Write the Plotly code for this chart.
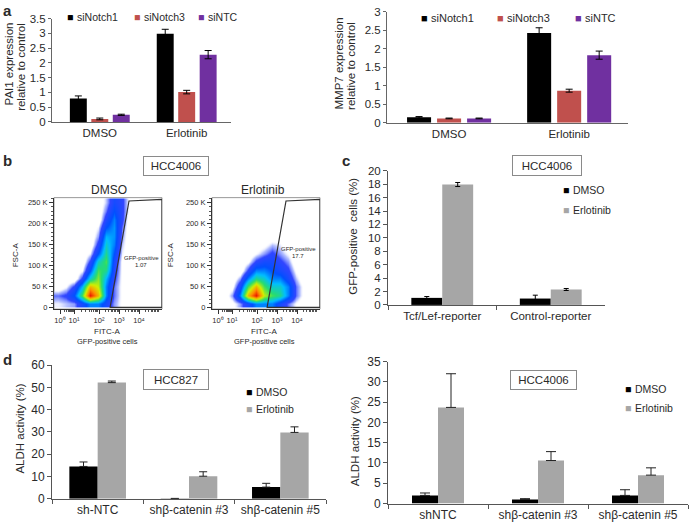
import numpy as np
import plotly.graph_objects as go

W, H = 689, 530
FONT = "Liberation Sans, Arial, sans-serif"
TXT = "#2a2a2a"

# ---------------- data ----------------
a_groups = ["DMSO", "Erlotinib"]
a_series = ["siNotch1", "siNotch3", "siNTC"]
pai1_siNotch1 = [0.79, 2.99]
pai1_siNotch1_err = [0.09, 0.15]
pai1_siNotch3 = [0.10, 1.01]
pai1_siNotch3_err = [0.03, 0.06]
pai1_siNTC = [0.24, 2.28]
pai1_siNTC_err = [0.02, 0.14]
mmp7_siNotch1 = [0.15, 2.43]
mmp7_siNotch1_err = [0.02, 0.14]
mmp7_siNotch3 = [0.12, 0.87]
mmp7_siNotch3_err = [0.01, 0.04]
mmp7_siNTC = [0.12, 1.83]
mmp7_siNTC_err = [0.01, 0.11]

c_categories = ["Tcf/Lef-reporter", "Control-reporter"]
c_dmso = [1.05, 0.95]
c_dmso_err = [0.2, 0.5]
c_erl = [17.95, 2.3]
c_erl_err = [0.3, 0.15]

d_series = ["DMSO", "Erlotinib"]
d827_categories = ["sh-NTC", "shβ-catenin #3", "shβ-catenin #5"]
d827_dmso = [14.5, 0.1, 5.2]
d827_dmso_err = [2.0, 0.0, 1.7]
d827_erl = [52.2, 10.1, 29.8]
d827_erl_err = [0.7, 2.0, 2.5]
d4006_categories = ["shNTC", "shβ-catenin #3", "shβ-catenin #5"]
d4006_dmso = [2.0, 1.0, 2.0]
d4006_dmso_err = [0.6, 0.2, 1.4]
d4006_erl = [23.7, 10.6, 7.0]
d4006_erl_err = [8.3, 2.2, 1.8]

# flow cytometry: coarse density grid
flow_x_centers = [4, 12, 20, 28, 36, 44, 52, 60, 68, 76, 84, 92, 100]   # FITC-A display units
flow_y_centers = [10, 30, 50, 70, 90, 110, 130, 150, 170, 190, 210, 230, 250]  # FSC-A (K)
flow_dmso_density = [
    [0.6, 0.8, 1, 2, 3, 3, 2, 1, 0.4, 0, 0, 0, 0],
    [1.2, 1.5, 2.5, 5, 9, 7, 3, 1.2, 0.4, 0, 0, 0, 0],
    [0, 0.5, 1.5, 3.5, 7, 6, 3, 1.2, 0.4, 0, 0, 0, 0],
    [0, 0, 0, 1.5, 4, 5.5, 3.5, 1.5, 0.4, 0, 0, 0, 0],
    [0, 0, 0, 0.5, 2.5, 5, 4.5, 1.8, 0.4, 0, 0, 0, 0],
    [0, 0, 0, 0, 1.5, 4, 5, 2, 0.4, 0, 0, 0, 0],
    [0, 0, 0, 0, 0.6, 2.5, 4.5, 2.5, 0.6, 0, 0, 0, 0],
    [0, 0, 0, 0, 0, 1.6, 4, 3, 0.8, 0, 0, 0, 0],
    [0, 0, 0, 0, 0, 1, 3.5, 3.2, 1, 0, 0, 0, 0],
    [0, 0, 0, 0, 0, 0.6, 2.5, 3.2, 1.2, 0, 0, 0, 0],
    [0, 0, 0, 0, 0, 0, 1.8, 3, 1.5, 0, 0, 0, 0],
    [0, 0, 0, 0, 0, 0, 1.2, 2.5, 1.5, 0.3, 0, 0, 0],
    [0, 0, 0, 0, 0, 0, 0.8, 2, 1.5, 0.3, 0, 0, 0],
]
flow_erl_density = [
    [0, 0, 0.3, 1, 2, 3, 3, 3, 2, 1.2, 0.5, 0, 0],
    [0, 0, 1, 3, 7, 9, 6, 5, 4.5, 3, 1.2, 0.3, 0],
    [0, 0, 0.3, 2, 5, 7, 5, 4, 4, 3, 1.2, 0.3, 0],
    [0, 0, 0, 1, 3, 4.5, 4, 3, 3, 2, 0.8, 0, 0],
    [0, 0, 0, 0, 1.5, 3, 3, 2.5, 2, 1.5, 0.4, 0, 0],
    [0, 0, 0, 0, 0.4, 1.5, 2, 2, 1.5, 1, 0, 0, 0],
    [0, 0, 0, 0, 0, 0.5, 1, 1.5, 1, 0.5, 0, 0, 0],
    [0, 0, 0, 0, 0, 0, 0.3, 0.8, 0.6, 0, 0, 0, 0],
    [0] * 13, [0] * 13, [0] * 13, [0] * 13, [0] * 13,
]
flow_dmso_gate_x = [56, 75, 108, 108, 56]
flow_dmso_gate_y = [0, 254, 258, 1, 1]
flow_erl_gate_x = [55, 74, 108, 108, 55]
flow_erl_gate_y = [0, 254, 258, 1, 1]
flow_dmso_pct = "1.07"
flow_erl_pct = "17.7"
flow_decades = ["10⁰", "10¹", "10²", "10³", "10⁴"]
flow_y_ticks = [0, 50, 100, 150, 200, 250]

# ---------------- styles ----------------
C_BLACK = "#000000"
C_RED = "#c0504d"
C_PURPLE = "#7030a0"
C_GRAY = "#a6a6a6"
a_colors = [C_BLACK, C_RED, C_PURPLE]
d_colors = [C_BLACK, C_GRAY]


def xdom(p0, p1):
    return [p0 / W, p1 / W]


def ydom(pb, pt):
    return [1 - pb / H, 1 - pt / H]


fig = go.Figure()


def add_bars(xa, ya, cats, vals_list, errs_list, colors, slot, bar, err_w, plus_only=False, err_color="#000"):
    n = len(vals_list)
    for i, (vals, errs, col) in enumerate(zip(vals_list, errs_list, colors)):
        off = (i - (n - 1) / 2) * slot - bar / 2
        if plus_only:
            ey = dict(type="data", symmetric=False, array=errs, arrayminus=[0] * len(errs),
                      color=err_color, thickness=1, width=err_w)
        else:
            ey = dict(type="data", array=errs, color=err_color, thickness=1, width=err_w)
        fig.add_trace(go.Bar(x=cats, y=vals, xaxis=xa, yaxis=ya, marker=dict(color=col, line=dict(width=0)),
                             width=bar, offset=off, error_y=ey, showlegend=False))


# panel a
add_bars("x", "y", a_groups, [pai1_siNotch1, pai1_siNotch3, pai1_siNTC],
         [pai1_siNotch1_err, pai1_siNotch3_err, pai1_siNTC_err], a_colors, 0.247, 0.195, 3.5)
add_bars("x2", "y2", a_groups, [mmp7_siNotch1, mmp7_siNotch3, mmp7_siNTC],
         [mmp7_siNotch1_err, mmp7_siNotch3_err, mmp7_siNTC_err], a_colors, 0.25, 0.2, 3.5)
# panel c
add_bars("x5", "y5", c_categories, [c_dmso, c_erl], [c_dmso_err, c_erl_err], d_colors, 0.285, 0.285, 2.5)
# panel d
add_bars("x6", "y6", d827_categories, [d827_dmso, d827_erl], [d827_dmso_err, d827_erl_err], d_colors,
         0.31, 0.31, 4, plus_only=True, err_color="#222")
add_bars("x7", "y7", d4006_categories, [d4006_dmso, d4006_erl], [d4006_dmso_err, d4006_erl_err], d_colors,
         0.26, 0.26, 5, plus_only=True, err_color="#222")

# panel b flow
flow_cs = [
    [0.0, "rgba(255,255,255,0)"],
    [0.045, "rgba(255,255,255,0)"],
    [0.09, "rgba(120,140,255,0.55)"],
    [0.15, "rgb(50,70,255)"],
    [0.28, "rgb(0,80,255)"],
    [0.40, "rgb(0,190,255)"],
    [0.53, "rgb(40,220,110)"],
    [0.68, "rgb(210,240,0)"],
    [0.84, "rgb(255,140,0)"],
    [1.0, "rgb(235,20,0)"],
]
for xa, ya, z, gx, gy in [("x3", "y3", flow_dmso_density, flow_dmso_gate_x, flow_dmso_gate_y),
                          ("x4", "y4", flow_erl_density, flow_erl_gate_x, flow_erl_gate_y)]:
    fig.add_trace(go.Heatmap(x=flow_x_centers, y=flow_y_centers, z=z, xaxis=xa, yaxis=ya,
                             colorscale=flow_cs, zmin=0, zmax=9, zsmooth="best", showscale=False,
                             hoverinfo="skip"))
    fig.add_trace(go.Scatter(x=gx, y=gy, xaxis=xa, yaxis=ya, mode="lines",
                             line=dict(color="#333", width=1.2), showlegend=False, hoverinfo="skip"))

# ---------------- axes ----------------
tickfont_a = dict(size=11.5, family=FONT, color=TXT)
tickfont_c = dict(size=11.5, family=FONT, color=TXT)
tickfont_d = dict(size=12, family=FONT, color=TXT)
flowfont = dict(size=7.5, family=FONT, color=TXT)

lay = {}
lay["xaxis"] = dict(domain=xdom(52, 231), range=[-0.55, 1.51], type="category", showline=True,
                    linecolor="#666", ticks="", tickfont=tickfont_a, anchor="y", fixedrange=True)
lay["yaxis"] = dict(domain=ydom(118, 12), range=[0, 3.5], dtick=0.5, showline=True, linecolor="#666",
                    ticks="outside", ticklen=3, tickcolor="#666", showgrid=False, zeroline=False,
                    tickfont=tickfont_a, anchor="x")
lay["xaxis2"] = dict(domain=xdom(387, 628), range=[-0.517, 1.49], type="category", showline=True,
                     linecolor="#666", ticks="", tickfont=tickfont_a, anchor="y2")
lay["yaxis2"] = dict(domain=ydom(119, 5), range=[0, 3], dtick=0.5, showline=True, linecolor="#666",
                     ticks="outside", ticklen=3, tickcolor="#666", showgrid=False, zeroline=False,
                     tickfont=tickfont_a, anchor="x2")

# flow axes
decade_pos = [6, 20, 45, 65, 85]
minor_pos = []
for i in range(len(decade_pos)):
    step = (decade_pos[i + 1] - decade_pos[i]) if i + 1 < len(decade_pos) else 20
    for k in range(2, 10):
        p = decade_pos[i] + step * np.log10(k)
        if p < 108:
            minor_pos.append(float(p))

for xa, ya, x0 in [("xaxis3", "yaxis3", 54), ("xaxis4", "yaxis4", 212)]:
    lay[xa] = dict(domain=xdom(x0, x0 + 108), range=[0, 108], tickvals=decade_pos, ticktext=flow_decades,
                   showline=True, linecolor="#333", ticks="outside", ticklen=4, tickcolor="#333",
                   showgrid=False, zeroline=False, tickfont=flowfont, anchor=ya.replace("axis", ""),
                   minor=dict(tickvals=minor_pos, ticks="outside", ticklen=2, tickcolor="#555"))
    lay[ya] = dict(domain=ydom(310.3, 195.8), range=[-3, 262], tickvals=flow_y_ticks,
                   ticktext=["0" if v == 0 else f"{v} K" for v in flow_y_ticks],
                   showline=True, linecolor="#333", ticks="outside", ticklen=4, tickcolor="#333",
                   showgrid=False, zeroline=False, tickfont=flowfont, anchor=xa.replace("axis", ""),
                   minor=dict(dtick=10, ticks="outside", ticklen=2, tickcolor="#555"))

lay["xaxis5"] = dict(domain=xdom(388, 605), range=[-0.5, 1.5], type="category", showline=True,
                     linecolor="#555", ticks="outside", tickson="boundaries", ticklen=4, tickcolor="#555",
                     tickfont=tickfont_c, anchor="y5")
lay["yaxis5"] = dict(domain=ydom(306, 168.2), range=[0, 20], dtick=2, showline=True, linecolor="#555",
                     ticks="outside", ticklen=4, tickcolor="#555", showgrid=False, zeroline=False,
                     tickfont=tickfont_c, anchor="x5")
lay["xaxis6"] = dict(domain=xdom(52, 326), range=[-0.5, 2.5], type="category", showline=True,
                     linecolor="#555", ticks="outside", tickson="boundaries", ticklen=4, tickcolor="#555",
                     tickfont=tickfont_d, anchor="y6")
lay["yaxis6"] = dict(domain=ydom(505, 368), range=[0, 60], dtick=10, showline=True, linecolor="#555",
                     ticks="outside", ticklen=4, tickcolor="#555", showgrid=False, zeroline=False,
                     tickfont=tickfont_d, anchor="x6")
lay["xaxis7"] = dict(domain=xdom(388, 688), range=[-0.5, 2.5], type="category", showline=True,
                     linecolor="#555", ticks="outside", tickson="boundaries", ticklen=4, tickcolor="#555",
                     tickfont=tickfont_d, anchor="y7")
lay["yaxis7"] = dict(domain=ydom(510, 364.2), range=[0, 35], dtick=5, showline=True, linecolor="#555",
                     ticks="outside", ticklen=4, tickcolor="#555", showgrid=False, zeroline=False,
                     tickfont=tickfont_d, anchor="x7")

# ---------------- annotations ----------------
anns = []


def ann(text, px, py, size, bold=False, xanchor="center", yanchor="middle", angle=0, color=TXT, **kw):
    if bold:
        text = f"<b>{text}</b>"
    anns.append(dict(text=text, x=px / W, y=1 - py / H, xref="paper", yref="paper", showarrow=False,
                     xanchor=xanchor, yanchor=yanchor, textangle=angle,
                     font=dict(size=size, family=FONT, color=color), **kw))


# panel letters
ann("a", 1, 4, 15, bold=True, xanchor="left")
ann("b", 1, 158, 15, bold=True, xanchor="left")
ann("c", 340, 158, 15, bold=True, xanchor="left")
ann("d", 1, 362, 15, bold=True, xanchor="left")

# y titles
ann("PAI1 expression", 9, 59, 11.5, angle=-90)
ann("relative to control", 21.5, 62, 11.5, angle=-90)
ann("MMP7 expression", 339, 58, 11.5, angle=-90)
ann("relative to control", 351.5, 61, 11.5, angle=-90)
ann("GFP-positive  cells (%)", 353, 236, 11.5, angle=-90)
ann("ALDH activity (%)", 20, 433, 11.5, angle=-90)
ann("ALDH activity (%)", 355, 446, 11.5, angle=-90)
ann("FSC-A", 15, 255, 8, angle=-90)
ann("FSC-A", 170, 255, 8, angle=-90)

# flow titles and labels
ann("DMSO", 109, 188, 12)
ann("Erlotinib", 263, 188, 12)
for cx in (107, 264):
    ann("FITC-A", cx, 333, 8)
    ann("GFP-positive cells", cx, 344, 7.5)
ann("GFP-positive", 141, 258, 6)
ann(flow_dmso_pct, 141, 265, 6)
ann("GFP-positive", 298, 249, 6)
ann(flow_erl_pct, 298, 256, 6)


# legends (as text)
def legend_item(name, color, px, py, size):
    ann("■", px, py, size, xanchor="left", color=color)
    ann(name, px + 0.95 * size, py, size, xanchor="left")


for name, col, px in zip(a_series, a_colors, [65, 132, 196]):
    legend_item(name, col, px, 10, 10.5)
for name, col, px in zip(a_series, a_colors, [419, 495, 573]):
    legend_item(name, col, px, 11, 11)
for name, col, py in zip(d_series, d_colors, [188, 208]):
    legend_item(name, col, 561, py, 10.5)
for name, col, py in zip(d_series, d_colors, [395, 413]):
    legend_item(name, col, 244, py, 10.5)
for name, col, py in zip(d_series, d_colors, [392, 412]):
    legend_item(name, col, 623, py, 10.5)


# boxed cell-line labels
def box_label(text, cx, cy, w, h):
    anns.append(dict(text=text, x=cx / W, y=1 - cy / H, xref="paper", yref="paper", showarrow=False,
                     xanchor="center", yanchor="middle", width=w - 2, height=h - 2, borderwidth=1,
                     borderpad=0, bordercolor="#8a8a8a", bgcolor="white",
                     font=dict(size=11.5, family=FONT, color=TXT)))


box_label("HCC4006", 176, 163, 66, 20)
box_label("HCC4006", 547, 162.5, 70, 21)
box_label("HCC827", 176, 382.5, 66, 21)
box_label("HCC4006", 543.5, 383, 67, 20)

# flow frames (top/right border)
shapes = []
for n in (3, 4):
    shapes.append(dict(type="rect", xref=f"x{n} domain", yref=f"y{n} domain", x0=0, x1=1, y0=0, y1=1,
                       line=dict(color="#999", width=1), layer="below"))

fig.update_layout(**lay)
fig.update_layout(width=W, height=H, margin=dict(l=0, r=0, t=0, b=0), paper_bgcolor="white",
                  plot_bgcolor="rgba(0,0,0,0)", barmode="overlay", showlegend=False, hovermode=False,
                  annotations=anns, shapes=shapes, font=dict(family=FONT, color=TXT))

fig.write_html("out.html", config={"displayModeBar": False, "staticPlot": True},
               post_script="document.body.style.margin='0px';document.body.style.overflow='hidden';")
